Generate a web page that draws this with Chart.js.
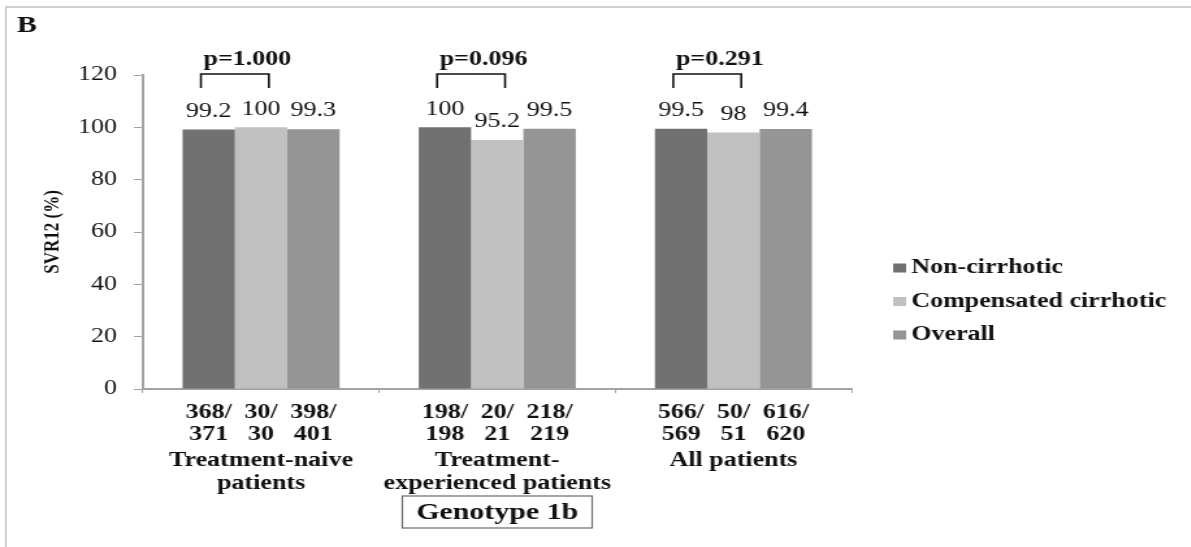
<!DOCTYPE html>
<html>
<head>
<meta charset="utf-8">
<script src="https://cdn.jsdelivr.net/npm/chart.js@4.4.0/dist/chart.umd.min.js"></script>
<style>
  html, body { margin: 0; padding: 0; background: #fff; overflow: hidden; }
  #frame { position: absolute; left: 5px; top: 6px; width: 1186px; height: 541px;
           border-top: 2px solid #cfcfcf; border-left: 2px solid #cfcfcf; }
  /* the original figure is stretched sideways, so draw narrow and widen */
  #wrap { position: absolute; left: 0; top: 0; width: 916px; height: 547px;
          transform: scaleX(1.3); transform-origin: 0 0; }
</style>
</head>
<body>
<div id="frame"></div>
<div id="wrap"><canvas id="svr" width="916" height="547"></canvas></div>
<script>
const categories = [['Treatment-naive', 'patients'], ['Treatment-', 'experienced patients'], ['All patients']];
const seriesNames = ['Non-cirrhotic', 'Compensated cirrhotic', 'Overall'];
const nonCirrhotic = [99.2, 100, 99.5];
const compensated = [100, 95.2, 98];
const overall = [99.3, 99.5, 99.4];
const nonCirrhoticN = ['368/371', '198/198', '566/569'];
const compensatedN = ['30/30', '20/21', '50/51'];
const overallN = ['398/401', '218/219', '616/620'];
const pValues = ['p=1.000', 'p=0.096', 'p=0.291'];
const colors = ['#717171', '#c0c0c0', '#959595'];

const counts = [nonCirrhoticN, compensatedN, overallN];
const serif = "'Liberation Serif', 'Times New Roman', serif";

const extras = {
  id: 'extras',
  afterDraw(chart) {
    const { ctx, chartArea, scales: { x } } = chart;
    ctx.save();
    ctx.fillStyle = '#111';
    ctx.textAlign = 'center';
    ctx.textBaseline = 'middle';

    // values above bars and n/N under the axis
    chart.data.datasets.forEach((ds, d) => {
      chart.getDatasetMeta(d).data.forEach((bar, i) => {
        ctx.font = `20px ${serif}`;
        ctx.fillText(String(ds.data[i]), bar.x, bar.y - 18);
        const [n, N] = counts[d][i].split('/');
        ctx.font = `bold 20px ${serif}`;
        ctx.fillText(n + '/', bar.x, x.top + 24);
        ctx.fillText(N, bar.x, x.top + 46);
      });
    });

    // p-value brackets between the first two bars
    const m0 = chart.getDatasetMeta(0), m1 = chart.getDatasetMeta(1);
    ctx.strokeStyle = '#111';
    ctx.lineWidth = 1.6;
    pValues.forEach((p, i) => {
      const l = m0.data[i].x - 6, r = m1.data[i].x + 6;
      const top = chartArea.top - 1;
      ctx.beginPath();
      ctx.moveTo(l, top + 14);
      ctx.lineTo(l, top);
      ctx.lineTo(r, top);
      ctx.lineTo(r, top + 14);
      ctx.stroke();
      ctx.font = `bold 20px ${serif}`;
      ctx.textAlign = 'left';
      ctx.fillText(p, l + 2, chartArea.top - 15);
    });

    // legend
    ctx.font = `bold 20px ${serif}`;
    ctx.textAlign = 'left';
    chart.data.datasets.forEach((ds, d) => {
      const cy = 268 + d * 33.5;
      ctx.fillStyle = ds.backgroundColor;
      ctx.fillRect(687, cy - 4.5, 10, 9);
      ctx.fillStyle = '#111';
      ctx.fillText(ds.label, 701, cy);
    });

    // panel letter
    ctx.font = `bold 23px ${serif}`;
    ctx.fillText('B', 13, 26);

    // boxed genotype caption under the middle group
    const cx = x.getPixelForValue(1);
    ctx.strokeStyle = '#6a6a6a';
    ctx.lineWidth = 1.2;
    ctx.strokeRect(cx - 73, 496, 146, 32);
    ctx.font = `bold 23px ${serif}`;
    ctx.textAlign = 'center';
    ctx.fillText('Genotype 1b', cx, 513);
    ctx.restore();
  }
};

new Chart(document.getElementById('svr'), {
  type: 'bar',
  data: {
    labels: categories,
    datasets: [
      { label: seriesNames[0], data: nonCirrhotic, backgroundColor: colors[0] },
      { label: seriesNames[1], data: compensated, backgroundColor: colors[1] },
      { label: seriesNames[2], data: overall, backgroundColor: colors[2] }
    ]
  },
  options: {
    responsive: false,
    animation: false,
    layout: { padding: { top: 75, right: 261, bottom: 0, left: 0 } },
    datasets: { bar: { categoryPercentage: 0.665, barPercentage: 1.0 } },
    plugins: { legend: { display: false }, tooltip: { enabled: false } },
    scales: {
      x: {
        afterFit: s => { s.height = 158; },
        border: { color: '#a3a3a3', width: 2 },
        grid: { drawOnChartArea: false, tickLength: 4, color: '#a3a3a3' },
        ticks: {
          color: '#111',
          padding: 56,
          font: { family: serif, size: 20, weight: 'bold', lineHeight: 1.15 }
        }
      },
      y: {
        min: 0,
        max: 120,
        afterFit: s => { s.width = 110; },
        border: { color: '#a3a3a3', width: 2 },
        grid: { drawOnChartArea: false, tickLength: 7, color: '#a3a3a3' },
        ticks: { stepSize: 20, color: '#111', padding: 13, font: { family: serif, size: 20 } },
        title: {
          display: true,
          text: 'SVR12 (%)',
          color: '#111',
          padding: { top: 30, bottom: 0 },
          font: { family: serif, size: 17, weight: 'bold' }
        }
      }
    }
  },
  plugins: [extras]
});
</script>
</body>
</html>
